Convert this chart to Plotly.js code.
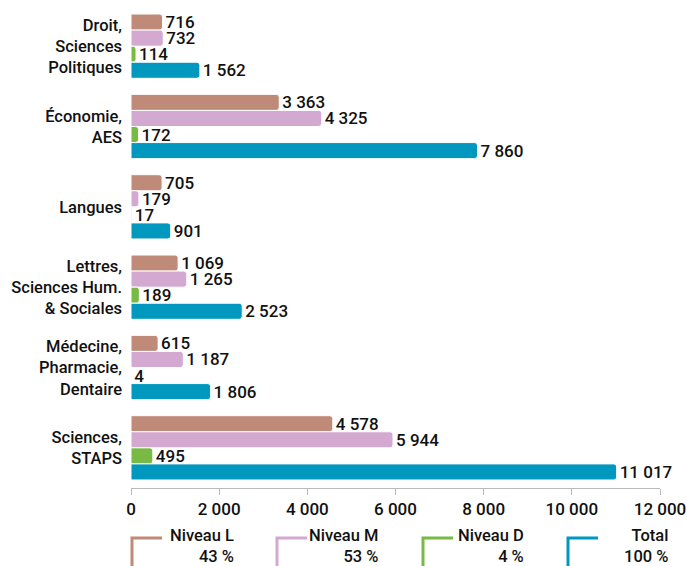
<!DOCTYPE html>
<html><head><meta charset="utf-8">
<script src="https://cdn.plot.ly/plotly-3.0.1.min.js"></script>
<style>html,body{margin:0;padding:0;background:#fff}#c{width:687px;height:566px}</style>
</head><body><div id="c"></div>
<script>
const categories = ["Droit,<br>Sciences<br>Politiques", "Économie,<br>AES", "Langues", "Lettres,<br>Sciences Hum.<br>& Sociales", "Médecine,<br>Pharmacie,<br>Dentaire", "Sciences,<br>STAPS"];
const niveauL = [716, 3363, 705, 1069, 615, 4578];
const niveauM = [732, 4325, 179, 1265, 1187, 5944];
const niveauD = [114, 172, 17, 189, 4, 495];
const total = [1562, 7860, 901, 2523, 1806, 11017];
const seriesNames = ["Niveau L", "Niveau M", "Niveau D", "Total"];
const seriesColors = ["#BF8A78", "#D3A8D1", "#78BA43", "#0098BE"];
const tickVals = [0, 2000, 4000, 6000, 8000, 10000, 12000];

const fmt = v => String(v).replace(/\B(?=(\d{3})+(?!\d))/g, " ");
const sum = a => a.reduce((s, v) => s + v, 0);
const series = [niveauL, niveauM, niveauD, total];
const grand = sum(total);
const pct = series.map(s => Math.round(sum(s) / grand * 100) + " %");

const FONT = "Roboto, 'Liberation Sans', sans-serif";
const traces = series.map((vals, i) => ({
  type: "bar", orientation: "h",
  x: vals, y: categories, name: seriesNames[i],
  marker: {color: seriesColors[i], line: {color: "#fff", width: 1}},
  text: vals.map(fmt), textposition: "outside", cliponaxis: false,
  constraintext: "none",
  textfont: {family: FONT, size: 17, color: "#111", weight: 500},
  hoverinfo: "none"
}));

// legend geometry (pixels)
const L = 131, T = 6, W = 529, H = 482;
const px = x => (x - L) / W;
const py = y => (T + H - y) / H;
const legX = [132, 277, 423, 568];
const legTextR = [235, 379, 525, 669];
const shapes = [], annotations = [];
seriesNames.forEach((n, i) => {
  shapes.push({type: "path", xref: "paper", yref: "paper",
    path: `M ${px(legX[i]+30)} ${py(538)} L ${px(legX[i])} ${py(538)} L ${px(legX[i])} ${py(570)}`,
    line: {color: seriesColors[i], width: 3}});
  annotations.push({xref: "paper", yref: "paper", x: px(legTextR[i] + 1), y: py(545.5),
    xanchor: "right", yanchor: "middle", align: "right", showarrow: false,
    text: n + "<br>" + pct[i],
    font: {family: FONT, size: 16.5, color: "#111", weight: 500}});
});

const layout = {
  width: 687, height: 566,
  margin: {l: 131, r: 27, t: 6, b: 78, pad: 0},
  paper_bgcolor: "#fff", plot_bgcolor: "#fff",
  showlegend: false, barmode: "group", bargap: 0.2, bargroupgap: 0,
  barcornerradius: 3,
  separators: ", ",
  font: {family: FONT, color: "#111"},
  xaxis: {range: [0, 12000], tickvals: tickVals, ticktext: tickVals.map(fmt),
    ticks: "outside", ticklen: 6, tickcolor: "#bbb", showline: true, linecolor: "#bbb",
    showgrid: false, zeroline: false, fixedrange: true,
    tickfont: {family: FONT, size: 17, color: "#111", weight: 500}},
  yaxis: {autorange: "reversed", showgrid: false, zeroline: false, showline: false,
    ticks: "", ticklabelstandoff: 8,
    tickfont: {family: FONT, size: 16.5, color: "#111", weight: 500}},
  shapes, annotations
};
Plotly.newPlot("c", traces, layout, {displayModeBar: false, staticPlot: true});
</script></body></html>
